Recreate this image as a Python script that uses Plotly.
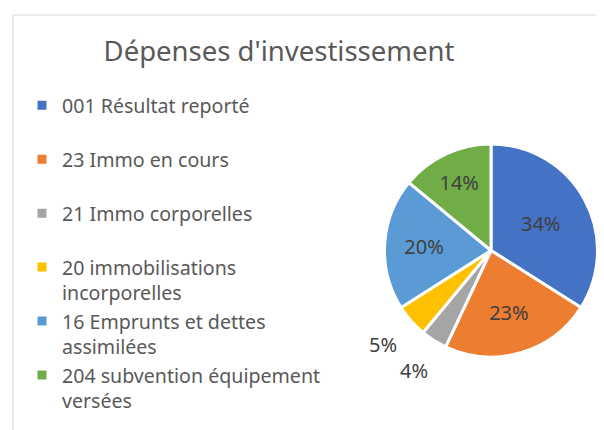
import math
import plotly.graph_objects as go

# slice data, clockwise from 12 o'clock
labels = [
    "001 Résultat reporté<br> ",
    "23 Immo en cours<br> ",
    "21 Immo corporelles<br> ",
    "20 immobilisations<br>incorporelles",
    "16 Emprunts et dettes<br>assimilées",
    "204 subvention équipement<br>versées",
]
values = [34, 23, 4, 5, 20, 14]
colors = ["#4472C4", "#ED7D31", "#A5A5A5", "#FFC000", "#5B9BD5", "#70AD47"]
# small slices get their labels outside the pie, without leader lines
outside = [False, False, True, True, False, False]

W, H = 604, 430
FONT = "Noto Sans"
# the page puts the figure 8px in from the window corner
OFF = 8

# pie geometry in pixels (window coords minus offset)
cx, cy, r = 491 - OFF, 250.5 - OFF, 106.5

fig = go.Figure()
fig.add_trace(go.Pie(
    labels=labels,
    values=values,
    sort=False,
    direction="clockwise",
    rotation=0,
    marker=dict(colors=colors, line=dict(color="white", width=3)),
    textinfo="percent",
    textposition=["none" if o else "inside" for o in outside],
    insidetextorientation="horizontal",
    textfont=dict(family=FONT, size=20, color="#404040"),
    domain=dict(x=[(cx - r) / W, (cx + r) / W], y=[1 - (cy + r) / H, 1 - (cy - r) / H]),
    hoverinfo="label+percent",
))

# outside labels placed along each slice's mid angle
total = sum(values)
annotations = []
cum = 0
for v, o in zip(values, outside):
    mid = (cum + v / 2) / total * 2 * math.pi
    cum += v
    if not o:
        continue
    px = cx + 1.35 * r * math.sin(mid)
    py = cy - 1.33 * r * math.cos(mid)
    annotations.append(dict(
        x=px / W, y=1 - py / H, xref="paper", yref="paper",
        xanchor="center", yanchor="middle",
        text=f"{round(v / total * 100)}%", showarrow=False,
        font=dict(family=FONT, size=20, color="#404040"),
    ))

fig.update_layout(
    width=W,
    height=H,
    margin=dict(l=0, r=0, t=0, b=0),
    paper_bgcolor="white",
    font=dict(family=FONT, color="#595959"),
    title=dict(
        text="Dépenses d'investissement",
        font=dict(family=FONT, size=27.5, color="#595959"),
        x=(279 - OFF) / W,
        xanchor="center",
        y=1 - (51 - OFF) / H,
        yanchor="middle",
    ),
    legend=dict(
        x=14 / W,
        y=1 - 78 / H,
        xanchor="left",
        yanchor="top",
        valign="top",
        font=dict(family=FONT, size=19.6, color="#595959"),
        bgcolor="rgba(0,0,0,0)",
    ),
    annotations=annotations,
    shapes=[
        dict(type="rect", xref="paper", yref="paper",
             x0=(13 - OFF) / W, x1=1.05, y0=-0.05, y1=1 - (15 - OFF) / H,
             line=dict(color="#D9D9D9", width=1)),
    ],
)

fig.write_html("out.html")
